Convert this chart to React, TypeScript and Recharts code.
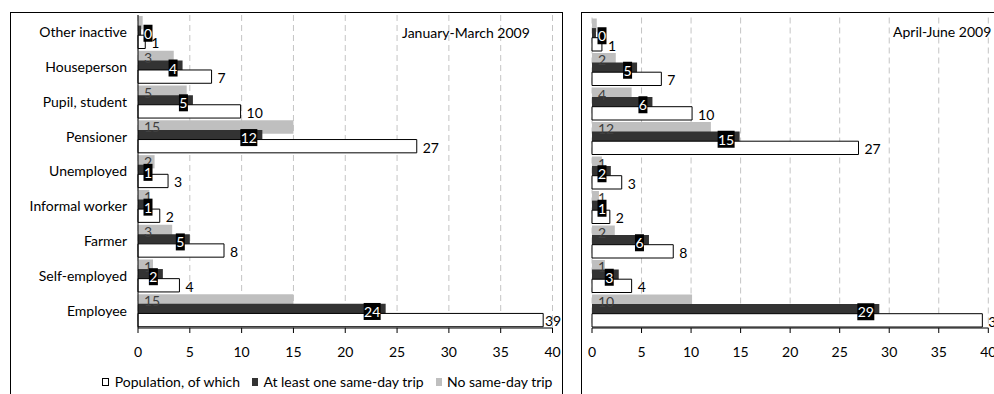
import { Bar, BarChart, CartesianGrid, LabelList, Legend, XAxis, YAxis } from "recharts";

// occupation groups, top to bottom
const categories = [
  "Other inactive",
  "Houseperson",
  "Pupil, student",
  "Pensioner",
  "Unemployed",
  "Informal worker",
  "Farmer",
  "Self-employed",
  "Employee",
];

const xTicks = [0, 5, 10, 15, 20, 25, 30, 35, 40];
const bandEdges = [0, 1, 2, 3, 4, 5, 6, 7, 8, 9];

// January-March 2009
const q1Population = [0.7, 7.1, 9.9, 26.9, 2.9, 2.1, 8.3, 4.0, 39.1];
const q1AtLeastOne = [0.3, 4.3, 5.3, 12.0, 1.0, 0.9, 5.0, 2.4, 23.9];
const q1NoTrip = [0.45, 3.45, 4.7, 15.0, 1.6, 1.1, 3.3, 1.45, 15.0];

// April-June 2009
const q2Population = [1.0, 7.0, 10.1, 26.9, 3.0, 1.8, 8.2, 4.0, 39.4];
const q2AtLeastOne = [0.4, 4.55, 6.1, 14.9, 1.9, 1.0, 5.75, 2.7, 29.0];
const q2NoTrip = [0.48, 2.4, 4.0, 12.0, 1.0, 0.7, 2.3, 1.3, 10.1];

const GRAY = "#bfbfbf";
const DARK = "#333333";
const FONT = "Lato, 'Open Sans', sans-serif";
const FS = 14;
const DIGIT = 8;

const buildRows = (population: number[], atLeastOne: number[], noTrip: number[]) =>
  categories.map((category, i) => ({
    category,
    population: population[i],
    atLeastOne: atLeastOne[i],
    noTrip: noTrip[i],
  }));

const boxOf = (props: any) => props.viewBox ?? props;

// grey bars: value at the start of the bar, nothing for a zero
const NoTripLabel = (props: any) => {
  const { x, y, height } = boxOf(props);
  const v = Math.round(Number(props.value));
  if (v === 0) return null;
  return (
    <text x={x + 6} y={y + height / 2} dominantBaseline="central" fill="#404040" fontSize={FS} fontFamily={FONT}>
      {v}
    </text>
  );
};

// black badge with the value, tucked inside the end of the dark bar
const TripBadge = (props: any) => {
  const { x, y, width, height } = boxOf(props);
  const text = String(Math.round(Number(props.value)));
  const w = text.length * DIGIT + 1;
  const h = 17;
  const cx = Math.max(x + width - 5 - w / 2, x + 10);
  const cy = y + height / 2 + 1;
  return (
    <g>
      <rect x={cx - w / 2} y={cy - h / 2} width={w} height={h} fill="#000" />
      <text x={cx} y={cy} textAnchor="middle" dominantBaseline="central" fill="#fff" fontSize={FS} fontFamily={FONT}>
        {text}
      </text>
    </g>
  );
};

// population totals: right of the bar, pulled back in if they would leave the chart
const PopulationLabel = (props: any) => {
  const { x, y, width, height } = boxOf(props);
  const text = String(Math.round(Number(props.value)));
  const w = text.length * DIGIT;
  const limit = props.limit as number;
  let tx = x + width + 6;
  let ty = y + height / 2 + 1;
  if (tx + w > limit) {
    tx = limit - w - 1;
    ty -= 1;
  }
  return (
    <text x={tx} y={ty} dominantBaseline="central" fill="#000" fontSize={FS} fontFamily={FONT}>
      {text}
    </text>
  );
};

const LegendRow = () => (
  <div
    style={{
      display: "flex",
      alignItems: "center",
      paddingLeft: 91,
      fontSize: FS,
      color: "#000",
      whiteSpace: "nowrap",
      lineHeight: "22px",
    }}
  >
    <span style={{ width: 6, height: 6, border: "1px solid #000", background: "#fff", marginRight: 6 }} />
    <span style={{ marginRight: 12 }}>Population, of which</span>
    <span style={{ width: 8, height: 8, background: DARK, marginRight: 5 }} />
    <span style={{ marginRight: 12 }}>At least one same-day trip</span>
    <span style={{ width: 8, height: 8, background: GRAY, marginRight: 5 }} />
    <span>No same-day trip</span>
  </div>
);

type PanelProps = {
  rows: ReturnType<typeof buildRows>;
  width: number;
  left: number;
  panelWidth: number;
  margin: { top: number; right: number; bottom: number; left: number };
  withCategories: boolean;
  title: string;
  titleLeft: number;
  titleTop: number;
};

function Panel({ rows, width, left, panelWidth, margin, withCategories, title, titleLeft, titleTop }: PanelProps) {
  return (
    <div
      style={{
        position: "absolute",
        left,
        top: 12,
        width: panelWidth,
        height: 400,
        border: "1px solid #000",
        background: "#fff",
      }}
    >
      <BarChart
        width={width}
        height={381}
        data={rows}
        layout="vertical"
        margin={margin}
        barSize={13.3}
        barGap={-3.7}
      >
        <CartesianGrid horizontal={false} stroke="#c4c4c4" strokeDasharray="6 4" />
        <XAxis
          type="number"
          domain={[0, 40]}
          ticks={xTicks}
          interval={0}
          height={43}
          tickSize={5}
          tickMargin={14}
          axisLine={{ stroke: "#000" }}
          tickLine={{ stroke: "#000" }}
          tick={{ fill: "#000", fontSize: FS }}
        />
        <YAxis
          type="category"
          dataKey="category"
          width={withCategories ? 127 : 0}
          tick={withCategories ? { fill: "#000", fontSize: FS } : false}
          tickLine={false}
          tickSize={5}
          tickMargin={6}
          axisLine={{ stroke: "#000" }}
        />
        {withCategories && (
          <YAxis
            yAxisId="edges"
            type="number"
            domain={[0, 9]}
            ticks={bandEdges}
            interval={0}
            width={0}
            tick={false}
            tickSize={5}
            axisLine={false}
            tickLine={{ stroke: "#000" }}
          />
        )}
        <Bar dataKey="noTrip" name="No same-day trip" fill={GRAY} isAnimationActive={false}>
          <LabelList dataKey="noTrip" content={<NoTripLabel />} />
        </Bar>
        <Bar dataKey="atLeastOne" name="At least one same-day trip" fill={DARK} isAnimationActive={false}>
          <LabelList dataKey="atLeastOne" content={<TripBadge />} />
        </Bar>
        <Bar
          dataKey="population"
          name="Population, of which"
          fill="#fff"
          stroke="#000"
          strokeWidth={1}
          isAnimationActive={false}
        >
          <LabelList dataKey="population" content={<PopulationLabel limit={width} />} />
        </Bar>
        {withCategories && <Legend verticalAlign="bottom" height={22} content={<LegendRow />} />}
      </BarChart>
      <div
        style={{
          position: "absolute",
          left: titleLeft,
          top: titleTop,
          fontSize: FS,
          lineHeight: "16px",
          color: "#000",
          whiteSpace: "nowrap",
        }}
      >
        {title}
      </div>
    </div>
  );
}

export default function App() {
  return (
    <div
      style={{
        position: "fixed",
        left: 0,
        top: 0,
        width: 994,
        height: 394,
        overflow: "hidden",
        background: "#fff",
        fontFamily: FONT,
      }}
    >
      <Panel
        rows={buildRows(q1Population, q1AtLeastOne, q1NoTrip)}
        left={10}
        panelWidth={551}
        width={551}
        margin={{ top: 2, right: 9.5, bottom: 1, left: 0 }}
        withCategories
        title="January-March 2009"
        titleLeft={391}
        titleTop={12}
      />
      <Panel
        rows={buildRows(q2Population, q2AtLeastOne, q2NoTrip)}
        left={581}
        panelWidth={460}
        width={440}
        margin={{ top: 4.5, right: 33.7, bottom: 23, left: 10 }}
        withCategories={false}
        title="April-June 2009"
        titleLeft={311}
        titleTop={11}
      />
    </div>
  );
}
